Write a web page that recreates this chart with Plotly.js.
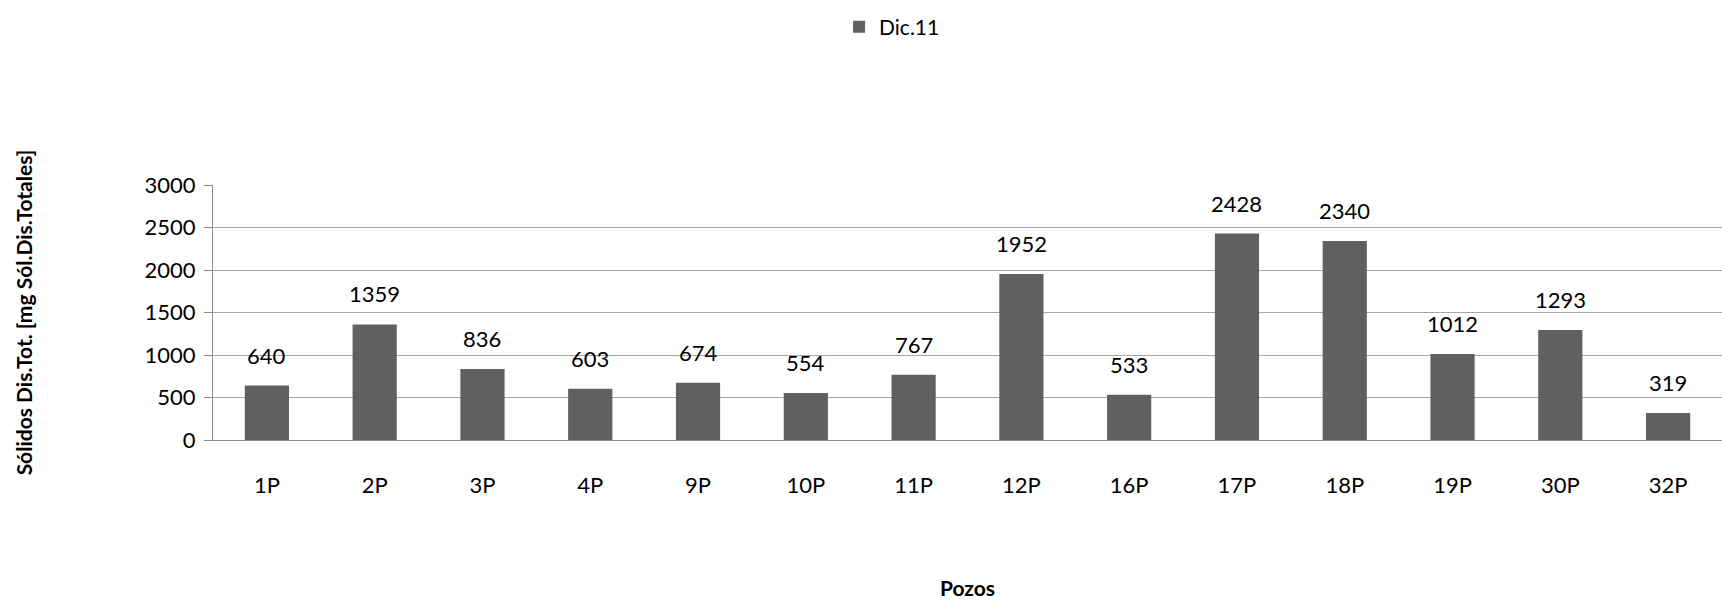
<!DOCTYPE html>
<html>
<head>
<meta charset="utf-8">
<script src="https://cdn.plot.ly/plotly-3.0.1.min.js"></script>
<style>html,body{margin:0;padding:0;background:#fff;}#chart{width:1722px;height:600px;}</style>
</head>
<body>
<div id="chart"></div>
<script>
const pozos = ["1P","2P","3P","4P","9P","10P","11P","12P","16P","17P","18P","19P","30P","32P"];
const dic11 = [640,1359,836,603,674,554,767,1952,533,2428,2340,1012,1293,319];
const seriesName = "Dic.11";
const yTicks = [0,500,1000,1500,2000,2500,3000];

const FONT = "Lato, 'Open Sans', sans-serif";

const trace = {
  type: "bar",
  x: pozos,
  y: dic11,
  name: seriesName,
  marker: {color: "#606060"},
  hoverinfo: "x+y"
};

const annotations = pozos.map((p, i) => ({
  x: p, y: dic11[i], xref: "x", yref: "y",
  text: String(dic11[i]),
  showarrow: false,
  yanchor: "bottom",
  yshift: 15,
  font: {family: FONT, size: 22, color: "#000"}
}));

const layout = {
  width: 1722, height: 600,
  margin: {l: 213, r: 0, t: 185, b: 160},
  paper_bgcolor: "#fff", plot_bgcolor: "#fff",
  bargap: 0.59,
  showlegend: true,
  legend: {
    orientation: "h", x: 0.45, xanchor: "center", y: 1.70, yanchor: "top",
    font: {family: FONT, size: 21, color: "#000"},
    itemwidth: 30
  },
  xaxis: {
    type: "category",
    showline: true, linecolor: "#8c8c8c", linewidth: 1,
    ticks: "", showgrid: false,
    tickfont: {family: FONT, size: 22, color: "#000"},
    ticklabelstandoff: 26,
    title: {text: "<b>Pozos</b>", font: {family: FONT, size: 21, color: "#000"}, standoff: 84}
  },
  yaxis: {
    range: [0, 3000],
    tickvals: yTicks,
    ticktext: yTicks.map(String),
    showline: true, linecolor: "#8c8c8c", linewidth: 1,
    ticks: "outside", ticklen: 8, tickcolor: "#8c8c8c",
    showgrid: true, gridcolor: "#a6a6a6", gridwidth: 1,
    zeroline: false,
    tickfont: {family: FONT, size: 22, color: "#000"},
    ticklabelstandoff: 4,
    title: {text: "<b>Sólidos Dis.Tot. [mg Sól.Dis.Totales]</b>", font: {family: FONT, size: 21, color: "#000"}, standoff: 106}
  },
  annotations: annotations
};

Plotly.newPlot("chart", [trace], layout, {displayModeBar: false, staticPlot: true});
</script>
</body>
</html>
